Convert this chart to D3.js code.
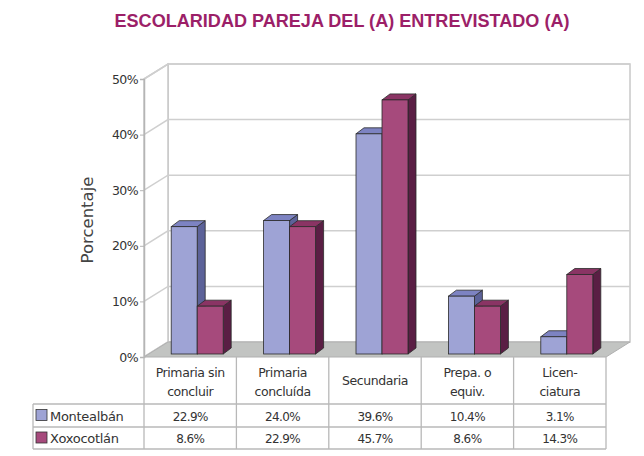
<!DOCTYPE html>
<html>
<head>
<meta charset="utf-8">
<script src="https://cdn.jsdelivr.net/npm/d3@7"></script>
<style>
  body { margin: 0; background: #fff; }
  text { font-family: "DejaVu Sans", sans-serif; fill: #333; }
</style>
</head>
<body>
<div id="chart"></div>
<script>
// Data
var categories = ["Primaria sin concluir", "Primaria concluída", "Secundaria", "Prepa. o equiv.", "Licen- ciatura"];
var categoryLines = [["Primaria  sin", "concluir"], ["Primaria", "concluída"], ["Secundaria"], ["Prepa. o", "equiv."], ["Licen-", "ciatura"]];
var seriesNames = ["Montealbán", "Xoxocotlán"];
var montealban = [22.9, 24.0, 39.6, 10.4, 3.1];
var xoxocotlan = [8.6, 22.9, 45.7, 8.6, 14.3];
var yTicks = [0, 10, 20, 30, 40, 50];

var seriesValues = [montealban, xoxocotlan];
var colors = [
  {front: "#9ea3d5", side: "#5c6299", top: "#7d83c2"},
  {front: "#a64a7c", side: "#5a1e44", top: "#8a3464"}
];

var svgWidth = 644, svgHeight = 456;
var svg = d3.select("#chart").append("svg")
    .attr("width", svgWidth)
    .attr("height", svgHeight);

// Plot geometry (front plane and depth offset)
var left = 144, right = 606;
var depthX = 24, depthY = -15;
var frontBase = 357, frontTop = 79;

var xScale = d3.scaleBand().domain(categories).range([left, right]);
var yFront = d3.scaleLinear().domain([0, 50]).range([frontBase, frontTop]);
var yBack = d3.scaleLinear().domain([0, 50]).range([frontBase + depthY, frontTop + depthY]);
// bars sit a little behind the front edge
var yBar = d3.scaleLinear().domain([0, 50]).range([frontBase - 3, frontTop - 3]);

// Title
svg.append("text")
    .attr("x", 342)
    .attr("y", 27)
    .attr("text-anchor", "middle")
    .attr("textLength", 455)
    .attr("lengthAdjust", "spacingAndGlyphs")
    .style("font-family", "'Liberation Sans', Arial, sans-serif")
    .style("font-weight", "bold")
    .style("font-size", "18px")
    .style("fill", "#9c1f68")
    .text("ESCOLARIDAD PAREJA DEL (A) ENTREVISTADO (A)");

// Back wall
svg.append("rect")
    .attr("x", left + depthX)
    .attr("y", yBack(50))
    .attr("width", right - left)
    .attr("height", yBack(0) - yBack(50))
    .attr("fill", "#fff")
    .attr("stroke", "#c8c8c8")
    .attr("stroke-width", 1.5);

// Side wall
svg.append("path")
    .attr("d", `M${left},${yFront(0)}L${left},${yFront(50)}L${left + depthX},${yBack(50)}L${left + depthX},${yBack(0)}Z`)
    .attr("fill", "#fff")
    .attr("stroke", "#c8c8c8")
    .attr("stroke-width", 1.5);

// Gridlines
yTicks.forEach(function(t) {
  svg.append("polyline")
      .attr("points", `${left},${yFront(t)} ${left + depthX},${yBack(t)} ${right + depthX},${yBack(t)}`)
      .attr("fill", "none")
      .attr("stroke", "#cfcfcf")
      .attr("stroke-width", 1.5);
});

// Floor
svg.append("path")
    .attr("d", `M${left},${yFront(0)}L${right},${yFront(0)}L${right + depthX},${yBack(0)}L${left + depthX},${yBack(0)}Z`)
    .attr("fill", "#c2c4c2")
    .attr("stroke", "#b0b0b0");

// Y axis
var leftAxis = d3.axisLeft(yFront)
    .tickValues(yTicks)
    .tickSize(4)
    .tickFormat(d => d + "%");
var yAxisG = svg.append("g")
    .attr("transform", `translate(${left}, 0)`)
    .call(leftAxis);
yAxisG.select(".domain").attr("stroke", "#b5b5b5").attr("stroke-width", 1.5);
yAxisG.selectAll(".tick line").attr("stroke", "#b5b5b5");
yAxisG.selectAll("text")
    .style("font-size", "12.5px")
    .style("letter-spacing", "-0.6px")
    .style("fill", "#333")
    .attr("x", -6);

svg.append("text")
    .attr("transform", `translate(93, 220) rotate(-90)`)
    .attr("text-anchor", "middle")
    .style("font-size", "16.5px")
    .style("fill", "#444")
    .text("Porcentaje");

// Bars (3D boxes)
var barW = 26, barDX = 8, barDY = -6;
var seriesScale = d3.scaleBand().domain(seriesNames).range([-barW, barW]);
var barShift = 7;

seriesNames.forEach(function(name, si) {
  var data = categories.map((c, i) => ({cat: c, value: seriesValues[si][i]}));
  var g = svg.append("g").attr("class", "series-" + si);
  var col = colors[si];
  data.forEach(function(d) {
    var x0 = xScale(d.cat) + xScale.bandwidth() / 2 + seriesScale(name) + barShift;
    var x1 = x0 + barW;
    var yb = yBar(0), yt = yBar(d.value);
    var bar = g.append("g");
    bar.append("path")
        .attr("d", `M${x1},${yb}L${x1 + barDX},${yb + barDY}L${x1 + barDX},${yt + barDY}L${x1},${yt}Z`)
        .attr("fill", col.side).attr("stroke", "#2a2a2a").attr("stroke-width", 0.8);
    bar.append("path")
        .attr("d", `M${x0},${yt}L${x0 + barDX},${yt + barDY}L${x1 + barDX},${yt + barDY}L${x1},${yt}Z`)
        .attr("fill", col.top).attr("stroke", "#2a2a2a").attr("stroke-width", 0.8);
    bar.append("rect")
        .attr("x", x0).attr("y", yt)
        .attr("width", barW).attr("height", yb - yt)
        .attr("fill", col.front).attr("stroke", "#2a2a2a").attr("stroke-width", 0.8);
  });
});

// Data table
var tableLeft = 33, row1 = 404, row2 = 427, row3 = 449;
var lineColor = "#b8b8b8";
var table = svg.append("g");

function hline(x0, x1, y) {
  table.append("line").attr("x1", x0).attr("x2", x1).attr("y1", y).attr("y2", y)
      .attr("stroke", lineColor).attr("stroke-width", 1.3);
}
function vline(x, y0, y1) {
  table.append("line").attr("x1", x).attr("x2", x).attr("y1", y0).attr("y2", y1)
      .attr("stroke", lineColor).attr("stroke-width", 1.3);
}
hline(tableLeft, right, row1);
hline(tableLeft, right, row2);
hline(tableLeft, right, row3);
vline(tableLeft, row1, row3);
categories.forEach(function(c) { vline(xScale(c), frontBase, row3); });
vline(right, frontBase, row3);

// category header text
categories.forEach(function(c, i) {
  var lines = categoryLines[i];
  var cx = xScale(c) + xScale.bandwidth() / 2;
  var t = table.append("text")
      .attr("x", cx)
      .attr("text-anchor", "middle")
      .style("font-size", "12.5px")
      .style("letter-spacing", "-0.4px");
  if (lines.length === 1) {
    t.append("tspan").attr("x", cx).attr("y", 385).text(lines[0]);
  } else {
    t.append("tspan").attr("x", cx).attr("y", 377).text(lines[0]);
    t.append("tspan").attr("x", cx).attr("y", 396).text(lines[1]);
  }
});

// series rows
var rowMid = [(row1 + row2) / 2, (row2 + row3) / 2];
seriesNames.forEach(function(name, si) {
  table.append("rect")
      .attr("x", 36).attr("y", rowMid[si] - 6)
      .attr("width", 11).attr("height", 11)
      .attr("fill", colors[si].front)
      .attr("stroke", "#333").attr("stroke-width", 0.8);
  table.append("text")
      .attr("x", 50).attr("y", rowMid[si] + 5)
      .style("font-size", "13px")
      .style("letter-spacing", "-0.3px")
      .text(name);
  categories.forEach(function(c, i) {
    table.append("text")
        .attr("x", xScale(c) + xScale.bandwidth() / 2)
        .attr("y", rowMid[si] + 5)
        .attr("text-anchor", "middle")
        .style("font-size", "12px")
        .style("letter-spacing", "-0.6px")
        .text(seriesValues[si][i].toFixed(1) + "%");
  });
});
</script>
</body>
</html>
